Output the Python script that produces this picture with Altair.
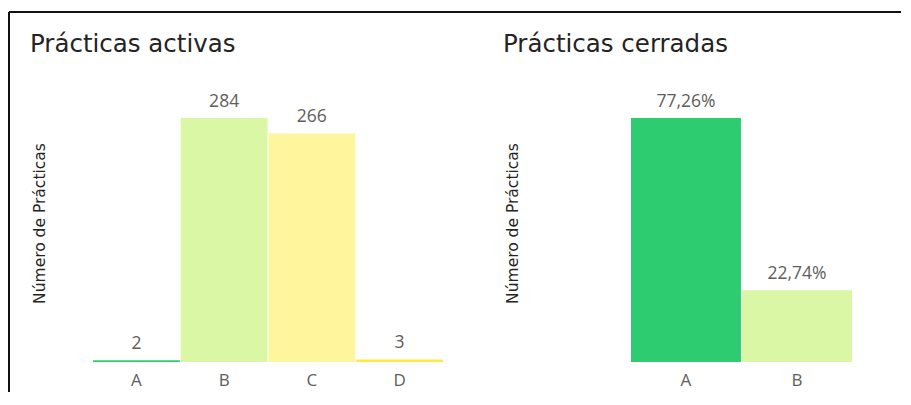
import altair as alt
import pandas as pd

# ---- data ----
act_cats = ["A", "B", "C", "D"]
act_vals = [2, 284, 266, 3]
act_labels = ["2", "284", "266", "3"]

cer_cats = ["A", "B"]
cer_vals = [77.26, 22.74]
cer_labels = ["77,26%", "22,74%"]

color_domain = ["A", "B", "C", "D"]
color_range = ["#2ECC71", "#DAF7A6", "#FFF59D", "#FFEB3B"]

TITLE_FONT = "DejaVu Sans"
LABEL_FONT = "Open Sans"
GREY = "#605E5C"
DARK = "#252423"

df_act = pd.DataFrame({"cat": act_cats, "val": act_vals, "label": act_labels})
df_cer = pd.DataFrame({"cat": cer_cats, "val": cer_vals, "label": cer_labels})
one = pd.DataFrame({"k": [0]})


def panel(df, cats, ymax, width, title, title_dx, axis_title_x, border):
    x = alt.X(
        "cat:N",
        sort=cats,
        scale=alt.Scale(paddingInner=0.01, paddingOuter=0),
        axis=alt.Axis(
            title=None, labelAngle=0, domain=False, ticks=False, grid=False,
            labelPadding=10, labelFontSize=17, labelColor=GREY, labelFont=LABEL_FONT,
        ),
    )
    y = alt.Y(
        "val:Q",
        scale=alt.Scale(domain=[0, ymax], nice=False, zero=True),
        axis=alt.Axis(
            title="Número de Prácticas", labels=False, ticks=False, domain=False,
            grid=False, titleAngle=270, titleX=axis_title_x, titleY=105,
            titleAlign="center", titleBaseline="middle", titleFont=TITLE_FONT,
            titleFontSize=15.5, titleFontWeight="normal", titleColor=DARK,
        ),
    )
    base = alt.Chart(df).encode(x=x, y=y)
    bars = base.mark_bar().encode(
        color=alt.Color("cat:N", scale=alt.Scale(domain=color_domain, range=color_range), legend=None)
    )
    text = base.mark_text(
        baseline="alphabetic", dy=-11, fontSize=17.5, color=GREY, font=LABEL_FONT
    ).encode(text="label:N")
    layers = [bars, text]
    for (x1, x2, y1, y2) in border:
        layers.append(
            alt.Chart(one).mark_rule(color="#111111", strokeWidth=2, strokeCap="butt").encode(
                x=alt.value(x1), x2=alt.value(x2), y=alt.value(y1), y2=alt.value(y2)
            )
        )
    return alt.layer(*layers).properties(
        width=width,
        height=244,
        title=alt.TitleParams(
            title, anchor="start", frame="group", dx=title_dx, dy=69,
            baseline="alphabetic", font=TITLE_FONT, fontSize=24.5,
            fontWeight="normal", color=DARK,
        ),
    )


left = panel(
    df_act, act_cats, 284, 350, "Prácticas activas", -63, -54,
    border=[(-84, -84, -106, 274), (-84, 444, -106, -106)],
)
right = panel(
    df_cer, cer_cats, 77.26, 221, "Prácticas cerradas", -128, -119,
    border=[(-94, 270, -106, -106)],
)

chart = alt.hconcat(left, right, spacing=188, bounds="flush").properties(
    padding={"top": 3, "left": 0, "right": 0, "bottom": 0}
).configure_view(stroke=None)

chart.save("out.html", embed_options={"renderer": "svg", "actions": False})
